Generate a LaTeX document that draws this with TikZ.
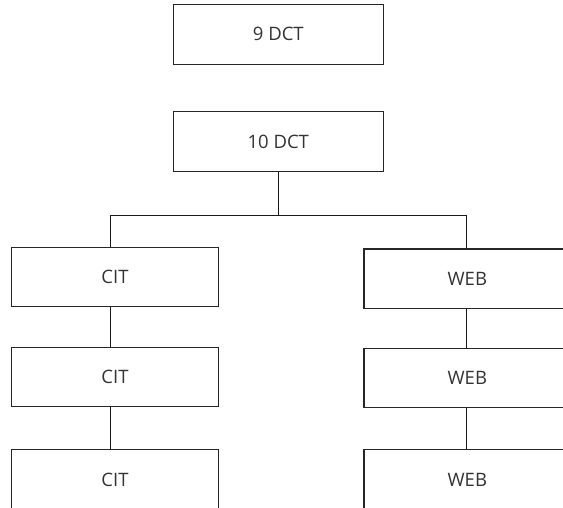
\documentclass[tikz,border=0pt]{standalone}
\usepackage{fontspec}
\setmainfont{Open Sans}
\begin{document}
\begin{tikzpicture}[x=1pt,y=-1pt,
  box/.style={draw=black!85,line width=1.1pt,fill=white,minimum width=210pt,minimum height=60pt,inner sep=0pt,font=\fontsize{18.5}{20}\selectfont,text=black!80},
  sbox/.style={box,minimum width=206.6pt,minimum height=59.4pt},
  conn/.style={draw=black!90,line width=0.9pt}]
\useasboundingbox (0,0) rectangle (563,507);
\clip (0,0) rectangle (563,507);
\node[box] (dct9) at (278.3,34.2) {9 DCT};
\node[box] (dct10) at (278.3,141.7) {10 DCT};
\node[sbox] (cit1) at (115,277) {CIT};
\node[sbox] (cit2) at (115,376.8) {CIT};
\node[sbox] (cit3) at (115,479.5) {CIT};
\node[sbox] (web1) at (467.3,278.7) {WEB};
\node[sbox] (web2) at (467.3,378) {WEB};
\node[sbox] (web3) at (467.3,479.5) {WEB};
\coordinate (bl) at (110.7,215);
\coordinate (br) at (466,215);
\draw[conn] (dct10.south) -- (dct10.south |- bl);
\draw[conn] (bl |- cit1.north) -- (bl) -- (br) -- (br |- web1.north);
\draw[conn] (bl |- cit1.south) -- (bl |- cit2.north);
\draw[conn] (bl |- cit2.south) -- (bl |- cit3.north);
\draw[conn] (br |- web1.south) -- (br |- web2.north);
\draw[conn] (br |- web2.south) -- (br |- web3.north);
\end{tikzpicture}
\end{document}
